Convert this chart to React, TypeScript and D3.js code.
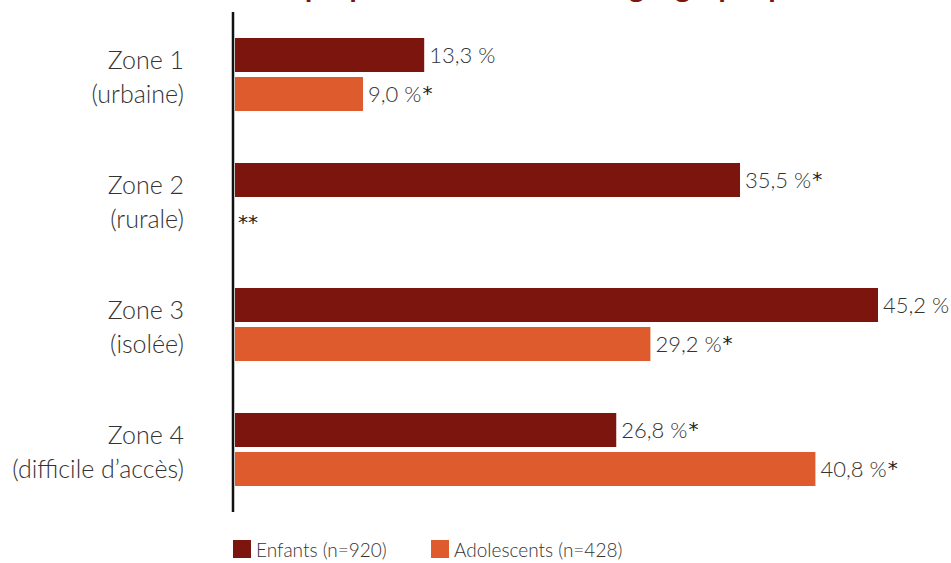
import React from "react";
import * as d3 from "d3";

const zones = ["Zone 1|(urbaine)", "Zone 2|(rurale)", "Zone 3|(isolée)", "Zone 4|(difficile d’accès)"];
const enfants: (number | null)[] = [13.3, 35.5, 45.2, 26.8];
const adolescents: (number | null)[] = [9.0, null, 29.2, 40.8];
const enfantsStar = [false, true, false, true];
const adolescentsStar = [true, false, true, true];
const seriesNames = ["Enfants (n=920)", "Adolescents (n=428)"];
const colors = ["#7B150E", "#DD5B2C"];
const title = "La proportion selon la zone géographique";

const W = 951, H = 563;
const FONT = "Lato, 'Open Sans', sans-serif";
const STAR = "'DejaVu Sans', sans-serif";

export default function App() {
  const x = d3.scaleLinear().domain([0, 45.2]).range([235, 878]);
  const y0 = d3.scaleBand<number>().domain(d3.range(zones.length)).range([13, 513]);
  const inner = d3.scaleBand<number>().domain([0, 1]).range([25, 98]).paddingInner(5 / 39);
  const fmt = (v: number) => d3.format(".1f")(v).replace(".", ",") + " %";
  const series = [enfants, adolescents];
  const stars = [enfantsStar, adolescentsStar];
  return (
    <svg width={W} height={H} style={{ position: "fixed", left: 0, top: 0, background: "#fff" }} fontFamily={FONT} fontWeight={300}>
      <text x={538} y={-4} textAnchor="middle" fontSize={25} letterSpacing={0.6} fontWeight="bold" fill="#7B150E" fontFamily="'Open Sans', sans-serif">{title}</text>
      {zones.map((z, i) => {
        const [l1, l2] = z.split("|");
        const cy = (y0(i) as number) + 62;
        return (
          <g key={i}>
            <text x={184} y={cy - 6} textAnchor="end" fontSize={25} fill="#333">{l1}</text>
            <text x={184} y={cy + 28} textAnchor="end" fontSize={25} fill="#333">{l2}</text>
            {series.map((s, k) => {
              const v = s[i];
              const by = (y0(i) as number) + (inner(k) as number);
              const bh = inner.bandwidth();
              if (v === null) {
                return <text key={k} x={238} y={by + bh / 2 + 10} fontSize={20} fontWeight="normal" fontFamily={STAR} fill="#222">**</text>;
              }
              return (
                <g key={k}>
                  <rect x={x(0)} y={by} width={x(v) - x(0)} height={bh} fill={colors[k]} />
                  <text x={x(v) + 5} y={by + bh / 2 + 8} fontSize={22} fill="#333">
                    {fmt(v)}
                    {stars[k][i] ? <tspan dy={-2} dx={1} fontSize={20} fontWeight="normal" fontFamily={STAR} fill="#222">*</tspan> : null}
                  </text>
                </g>
              );
            })}
          </g>
        );
      })}
      <line x1={233} x2={233} y1={12} y2={512} stroke="#111" strokeWidth={2.5} />
      {seriesNames.map((n, k) => (
        <g key={n} transform={`translate(${k === 0 ? 233 : 431},540)`}>
          <rect width={18} height={18} fill={colors[k]} />
          <text x={23} y={17} fontSize={19} fill="#333">{n}</text>
        </g>
      ))}
    </svg>
  );
}
